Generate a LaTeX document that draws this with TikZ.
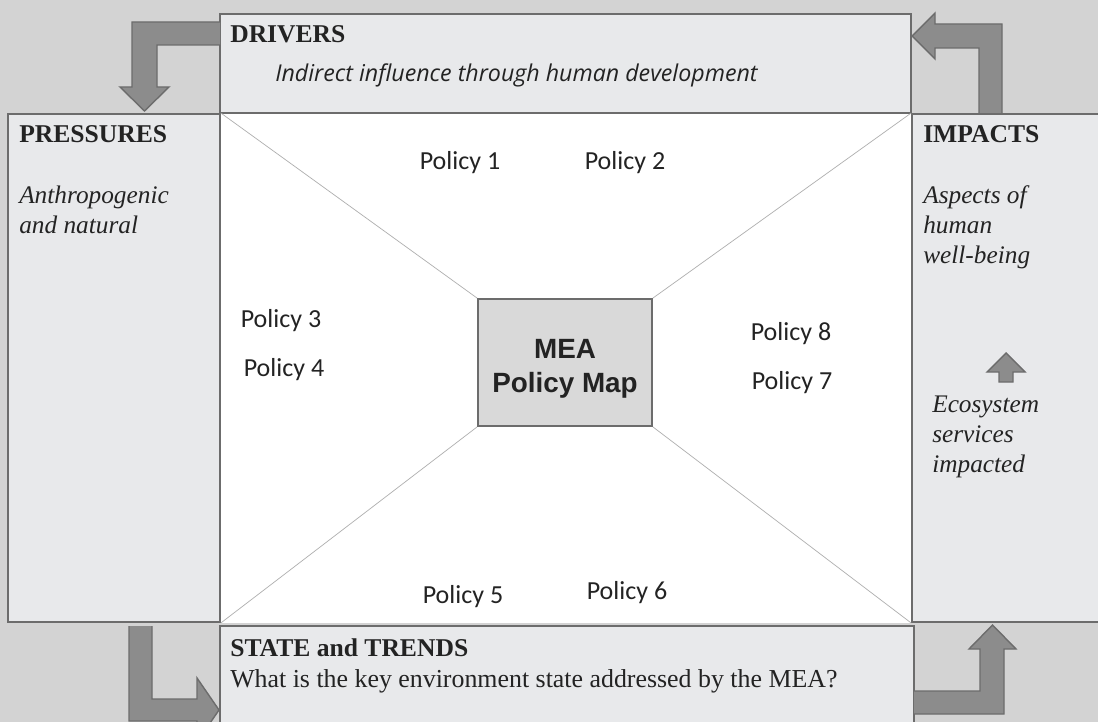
\documentclass[tikz,border=0pt]{standalone}
\usepackage{fontspec}
\setmainfont{Liberation Serif}
\newfontfamily\calibri{Carlito}
\newfontfamily\opensans{Open Sans}
\newfontfamily\arialfont{Liberation Sans}
\usetikzlibrary{fit}

\definecolor{bggray}{RGB}{211,211,211}
\definecolor{boxgray}{RGB}{232,233,235}
\definecolor{edgegray}{RGB}{108,108,108}
\definecolor{arrowgray}{RGB}{140,140,140}
\definecolor{mapgray}{RGB}{217,217,217}
\definecolor{linegray}{RGB}{175,175,175}
\definecolor{textgray}{RGB}{35,35,35}

\begin{document}
\begin{tikzpicture}[x=0.025cm, y=-0.025cm, text=textgray,
    box/.style={draw=edgegray, fill=boxgray, line width=1.3pt, inner sep=0pt},
    blockarrow/.style={draw=edgegray, fill=arrowgray, line width=1pt, line join=miter},
    head/.style={anchor=base west, inner sep=0pt, font=\fontsize{18.2}{22}\selectfont\bfseries},
    note/.style={anchor=base west, inner sep=0pt, align=left, font=\fontsize{18}{21.3}\selectfont\itshape},
    policy/.style={inner sep=0pt, font=\calibri\fontsize{18.5}{22}\selectfont}]
  \useasboundingbox (0,0) rectangle (1098,722);
  \clip (0,0) rectangle (1098,722);
  \fill[bggray] (0,0) rectangle (1098,722);

  % the four outer boxes
  \node[box, fit={(8,114) (220,622)}] (pressures) {};
  \node[box, fit={(912,114) (1120,622)}] (impacts) {};
  \node[box, fit={(220,14) (911,113)}] (drivers) {};
  \node[box, fit={(220,626) (914,760)}] (state) {};
  \node[fill=white, inner sep=0pt, fit={(221,114) (911,623)}] (middle) {};

  % map in the middle
  \node[box, fill=mapgray, fit={(478,299) (652,426)}] (map) {};
  \draw[linegray, line width=0.5pt] (map.north west) -- (pressures.north east);
  \draw[linegray, line width=0.5pt] (map.north east) -- (impacts.north west);
  \draw[linegray, line width=0.5pt] (map.south west) -- (pressures.south east);
  \draw[linegray, line width=0.5pt] (map.south east) -- (impacts.south west);
  \node[inner sep=0pt, align=center, yshift=-4.5pt, font=\arialfont\bfseries\fontsize{19.8}{23.5}\selectfont]
    (maptext) at (map.center) {MEA\\Policy Map};

  % block arrows round the boxes
  \draw[blockarrow] (220,22) -- (132,22) -- (132,87) -- (120,87) -- (144.5,111)
    -- (169,87) -- (157,87) -- (157,45) -- (220,45);
  \draw[blockarrow] (1002,113) -- (1002,24) -- (935,24) -- (935,13) -- (912,36)
    -- (935,59) -- (935,48) -- (979,48) -- (979,113);
  \draw[blockarrow] (129,626) -- (129,721) -- (197,721) -- (197,742) -- (219,710)
    -- (197,678) -- (197,699) -- (152,699) -- (152,626);
  \draw[blockarrow] (914,691) -- (980,691) -- (980,649) -- (969,649) -- (992.5,625)
    -- (1016,649) -- (1004,649) -- (1004,714) -- (914,714);
  \draw[blockarrow] (999,382) -- (999,372) -- (987,372) -- (1006,353) -- (1025,372)
    -- (1013,372) -- (1013,382) -- cycle;

  % box texts (base = last line)
  \node[head] (driverstitle) at (230,43) {DRIVERS};
  \node[anchor=base west, inner sep=0pt, font=\opensans\itshape\fontsize{16.5}{20}\selectfont]
    (driverstext) at (275,82) {Indirect influence through human development};
  \node[head] (pressurestitle) at (19,143) {PRESSURES};
  \node[note] (pressurestext) at (19,233) {Anthropogenic\\and natural};
  \node[head] (impactstitle) at (923,143) {IMPACTS};
  \node[note] (impactstext) at (923,263) {Aspects of\\human\\well-being};
  \node[note] (services) at (932,472) {Ecosystem\\services\\impacted};
  \node[head] (statetitle) at (230,656) {STATE and TRENDS};
  \node[anchor=base west, inner sep=0pt, font=\fontsize{18.4}{22}\selectfont]
    (statetext) at (230,687) {What is the key environment state addressed by the MEA?};

  % policies
  \node[policy] (p1) at (460,163) {Policy 1};
  \node[policy] (p2) at (625,163) {Policy 2};
  \node[policy] (p3) at (281,321) {Policy 3};
  \node[policy] (p4) at (284,370) {Policy 4};
  \node[policy] (p8) at (791,334) {Policy 8};
  \node[policy] (p7) at (792,383) {Policy 7};
  \node[policy] (p5) at (463,597) {Policy 5};
  \node[policy] (p6) at (627,593) {Policy 6};
%  \node[policy] (p9) at (565,500) {Policy 9};
\end{tikzpicture}
\end{document}
